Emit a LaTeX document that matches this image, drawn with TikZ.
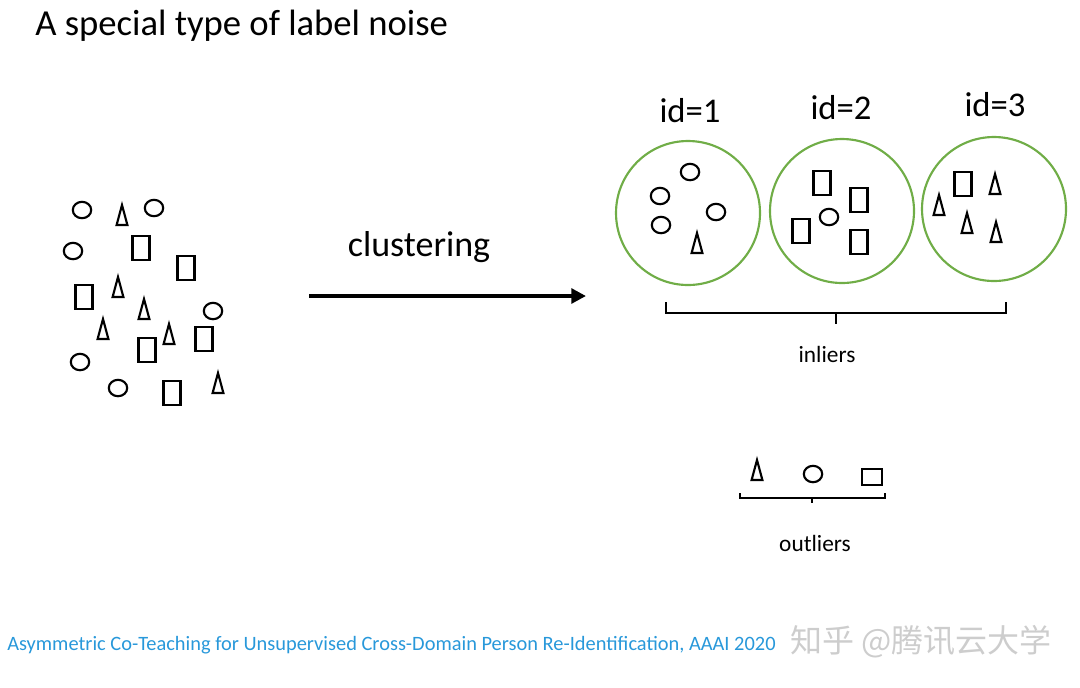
\documentclass[tikz,border=0pt]{standalone}
\usepackage{fontspec}
\setmainfont{Carlito}
\newfontfamily\cjk{Noto Sans CJK SC}
\usetikzlibrary{arrows.meta}
\definecolor{cgreen}{RGB}{112,173,71}
\definecolor{cblue}{RGB}{40,152,218}
\definecolor{cgray}{RGB}{205,205,205}
\tikzset{
  shp/.style={line width=1.6pt, black},
  oval/.pic={\draw[shp] (0,0) ellipse [x radius=9.2, y radius=8.2];},
  tri/.pic={\draw[shp, line join=miter] (-5.4,10) -- (0,-10) -- (5.4,10) -- cycle;},
  box/.pic={\draw[shp] (-8.5,-12) rectangle (8.5,12);},
  wbox/.pic={\draw[shp] (-10,-8) rectangle (10,8);},
  cluster/.style={draw=cgreen, line width=1.6pt, circle, minimum size=144*0.75pt, inner sep=0pt},
  big/.style={font=\fontsize{27.5}{32}\selectfont, inner sep=0pt},
  small/.style={font=\fontsize{17.5}{21}\selectfont, inner sep=0pt},
  brace/.style={line width=1.6pt, black}
}
\begin{document}
\begin{tikzpicture}[x=0.75pt,y=-0.75pt]
\useasboundingbox (0,0) rectangle (1080,687);
% title
\node[big, anchor=west] (title) at (35,26) {A special type of label noise};
% left cloud
\pic at (82,210) {oval};
\pic at (154,208) {oval};
\pic at (73,251) {oval};
\pic at (213,311) {oval};
\pic at (80,362) {oval};
\pic at (118,388) {oval};
\pic at (122,215) {tri};
\pic at (118,287) {tri};
\pic at (144,309) {tri};
\pic at (103,329) {tri};
\pic at (169,334) {tri};
\pic at (218,383) {tri};
\pic at (141,248) {box};
\pic at (186,268) {box};
\pic at (84,297) {box};
\pic at (147,350) {box};
\pic at (204,339) {box};
\pic at (172,393) {box};
% arrow
\coordinate (as) at (309,296);
\coordinate (ae) at (586,296);
\draw[line width=3pt, -{Triangle[length=11pt,width=11pt]}] (as) -- (ae);
\node[font=\fontsize{27}{32}\selectfont, inner sep=0pt] (clu) at (419,247) {clustering};
% clusters
\node[cluster] (c1) at (688,213) {};
\node[cluster] (c2) at (842,211) {};
\node[cluster] (c3) at (994,209) {};
\node[font=\fontsize{26}{31}\selectfont, inner sep=0pt] (l1) at (690,111) {id=1};
\node[font=\fontsize{26}{31}\selectfont, inner sep=0pt] (l2) at (841,108) {id=2};
\node[font=\fontsize{26}{31}\selectfont, inner sep=0pt] (l3) at (995,105) {id=3};
% cluster 1
\pic at (690,172) {oval};
\pic at (660,196) {oval};
\pic at (661,225) {oval};
\pic at (716,212) {oval};
\pic at (697,243) {tri};
% cluster 2
\pic at (822,183) {box};
\pic at (859,200) {box};
\pic at (801,231) {box};
\pic at (859,242) {box};
\pic at (829,217) {oval};
% cluster 3
\pic at (963,184) {box};
\pic at (995,184) {tri};
\pic at (939,205) {tri};
\pic at (967,223) {tri};
\pic at (996,232) {tri};
% inliers brace
\coordinate (b1) at (666,302);
\coordinate (b2) at (1006,302);
\coordinate (bm) at (836,313);
\draw[brace] (b1) -- (666,313) -- (1006,313) -- (b2);
\draw[brace] (bm) -- (836,324);
\node[small] (inl) at (827,354) {inliers};
% outliers
\pic at (757,470) {tri};
\pic at (813,474) {oval};
\pic at (872,477) {wbox};
\coordinate (o1) at (740,493);
\coordinate (o2) at (885,493);
\coordinate (om) at (812,498);
\draw[brace] (o1) -- (740,498) -- (885,498) -- (o2);
\draw[brace] (om) -- (812,503);
\node[small] (outl) at (815,543) {outliers};
% footer
\node[anchor=west, text=cblue, font=\fontsize{15.3}{18}\selectfont, inner sep=0pt] (foot) at (7,645) {Asymmetric Co-Teaching for Unsupervised Cross-Domain Person Re-Identification, AAAI 2020};
\node[anchor=west, text=cgray, font=\cjk\fontsize{24}{28}\selectfont, inner sep=0pt] (wm) at (790,642) {知乎 @腾讯云大学};
\end{tikzpicture}
\end{document}
